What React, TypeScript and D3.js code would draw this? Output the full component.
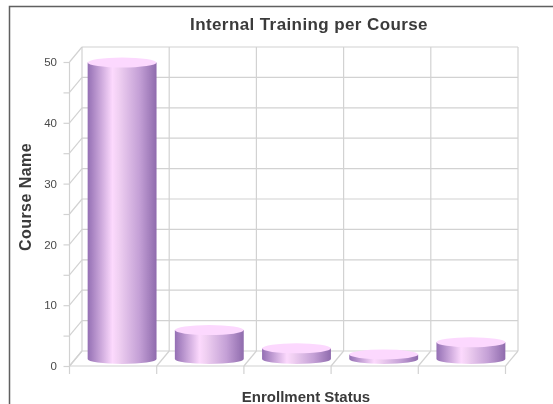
import { useEffect, useRef } from "react";
import * as d3 from "d3";

const categories = ["A", "B", "C", "D", "E"];
const values = [49, 5, 2, 1, 3];
const tickValues = [0, 5, 10, 15, 20, 25, 30, 35, 40, 45, 50];

const titleText = "Internal Training per Course";
const xTitle = "Enrollment Status";
const yTitle = "Course Name";

const width = 553;
const height = 404;
const gridColor = "#d2d2d2";
const textColor = "#3a3a3a";
const fontFamily = "'Liberation Sans', Arial, sans-serif";

function App() {
  const svgRef = useRef<SVGSVGElement>(null);

  useEffect(() => {
    const svg = d3.select(svgRef.current);
    svg.selectAll("*").remove();

    // front plane of the fake 3d box, the back wall sits dx/dy away from it
    const left = 69.5, right = 505.5, bottom = 366, top = 62;
    const dx = 12.5, dy = 15;

    const y = d3.scaleLinear().domain([0, 50]).range([bottom, top]);
    const xGrid = d3.scaleBand<string>().domain(categories).range([left, right]);
    const xBar = d3.scaleBand<string>().domain(categories).range([left + 9, right + 9]).paddingInner(0.21).paddingOuter(0.105);

    const defs = svg.append("defs");
    const grad = defs.append("linearGradient").attr("id", "cyl").attr("x1", "0").attr("x2", "1").attr("y1", "0").attr("y2", "0");
    [
      [0, "#946fb4"],
      [0.36, "#fcd9fd"],
      [0.45, "#f0d0f2"],
      [0.75, "#c4a0d6"],
      [1, "#8f6bad"],
    ].forEach(([o, c]) => grad.append("stop").attr("offset", o as number).attr("stop-color", c as string));
    defs.append("filter").attr("id", "soft").append("feGaussianBlur").attr("stdDeviation", 0.4);

    const root = svg.append("g").attr("filter", "url(#soft)");

    // frame, only top and left show inside the crop
    root.append("path")
      .attr("d", `M9.5,${height} V6.5 H${width}`)
      .attr("fill", "none").attr("stroke", "#606060").attr("stroke-width", 1.5);

    const grid = root.append("g").attr("fill", "none").attr("stroke", gridColor).attr("stroke-width", 1.2);

    // back wall + side wall lines
    tickValues.forEach((t) => {
      grid.append("line").attr("x1", left + dx).attr("x2", right + dx).attr("y1", y(t) - dy).attr("y2", y(t) - dy);
      grid.append("line").attr("x1", left).attr("x2", left + dx).attr("y1", y(t)).attr("y2", y(t) - dy);
    });

    // back wall verticals + floor diagonals
    const edges = [...categories.map((c) => xGrid(c) as number), right];
    edges.forEach((e) => {
      grid.append("line").attr("x1", e + dx).attr("x2", e + dx).attr("y1", top - dy).attr("y2", bottom - dy);
      grid.append("line").attr("x1", e).attr("x2", e + dx).attr("y1", bottom).attr("y2", bottom - dy);
      grid.append("line").attr("x1", e).attr("x2", e).attr("y1", bottom).attr("y2", bottom + 8);
    });

    grid.append("line").attr("x1", left).attr("x2", right).attr("y1", bottom).attr("y2", bottom);
    grid.append("line").attr("x1", left).attr("x2", left).attr("y1", top).attr("y2", bottom);

    // y axis ticks and labels
    const axis = root.append("g")
      .attr("transform", `translate(${left},0)`)
      .call(
        d3.axisLeft(y)
          .tickValues(tickValues)
          .tickSize(6)
          .tickPadding(6.5)
          .tickFormat((d) => ((d as number) % 10 === 0 ? String(d) : ""))
      );
    axis.select(".domain").remove();
    axis.selectAll(".tick line").attr("stroke", gridColor).attr("stroke-width", 1.2);
    axis.selectAll("text")
      .attr("fill", "#4a4a4a")
      .style("font-family", fontFamily)
      .style("font-size", "11.5px");

    // cylinders
    const baseY = 359;
    const capOffset = 5.5;
    const ry = 5;
    const bars = root.append("g");
    categories.forEach((c, i) => {
      const x0 = xBar(c) as number;
      const w = xBar.bandwidth();
      const rx = w / 2;
      const yTop = y(values[i]) - capOffset;

      bars.append("path")
        .attr("d", `M${x0},${yTop} V${baseY} A${rx},${ry} 0 0 0 ${x0 + w},${baseY} V${yTop} Z`)
        .attr("fill", "url(#cyl)");
      bars.append("ellipse")
        .attr("cx", x0 + rx).attr("cy", yTop)
        .attr("rx", rx).attr("ry", ry)
        .attr("fill", "#fcd8fe");
    });

    // titles
    const label = (text: string, tx: number, ty: number, size: number, spacing: number, rotate = 0) =>
      root.append("text")
        .attr("transform", `translate(${tx},${ty}) rotate(${rotate})`)
        .attr("text-anchor", "middle")
        .attr("fill", textColor)
        .style("font-family", fontFamily)
        .style("font-size", `${size}px`)
        .style("font-weight", "bold")
        .style("letter-spacing", `${spacing}px`)
        .text(text);

    label(titleText, 309, 30, 17, 0.4);
    label(xTitle, 306, 402, 15, 0);
    label(yTitle, 31, 197, 16, 0.45, -90);
  }, []);

  return (
    <svg
      ref={svgRef}
      width={width}
      height={height}
      style={{ position: "absolute", left: 0, top: 0, background: "#fff" }}
    />
  );
}

export default App;
